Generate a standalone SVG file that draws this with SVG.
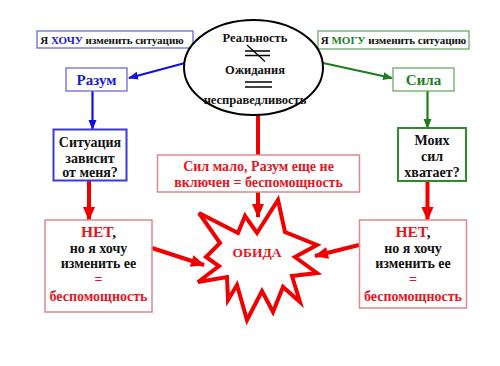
<svg xmlns="http://www.w3.org/2000/svg" width="500" height="366" viewBox="0 0 500 366" font-family="'Liberation Serif', 'DejaVu Serif', serif">
<style>
text{font-family:'Liberation Serif','DejaVu Serif',serif;font-weight:bold;text-anchor:middle}
.k{fill:#111}
.b{fill:#1a1ad6}
.g{fill:#1e7d1e}
.r{fill:#e8141e}
.bb{fill:#fff;stroke:#6a6ad8;stroke-width:1.3}
.bb2{fill:#fff;stroke:#3a3ad8;stroke-width:2}
.gb{fill:#fff;stroke:#6aaa6a;stroke-width:1.3}
.gb2{fill:#fff;stroke:#2e8a2e;stroke-width:2}
.rb{fill:#fff;stroke:#d88a8e;stroke-width:1.5}
.bl{stroke:#1010e0;stroke-width:2.2;fill:none}
.gl{stroke:#1e7d1e;stroke-width:2.2;fill:none}
.rl{stroke:#f00000;stroke-width:4;fill:none}
</style>
<defs>
<marker id="ab" markerUnits="userSpaceOnUse" markerWidth="10" markerHeight="10" refX="9" refY="5" orient="auto"><path d="M0,1 L10,5 L0,9 Z" fill="#1010e0"/></marker>
<marker id="ag" markerUnits="userSpaceOnUse" markerWidth="10" markerHeight="10" refX="9" refY="5" orient="auto"><path d="M0,1 L10,5 L0,9 Z" fill="#1e7d1e"/></marker>
<marker id="ar" markerUnits="userSpaceOnUse" markerWidth="14" markerHeight="14" refX="13" refY="7" orient="auto"><path d="M0,1 L14,7 L0,13 Z" fill="#f00000"/></marker>
</defs>
<rect width="500" height="366" fill="#fff"/>

<g id="connectors">
<line class="bl" x1="185" y1="63" x2="129" y2="78" marker-end="url(#ab)"/>
<line class="gl" x1="323" y1="63" x2="392" y2="78" marker-end="url(#ag)"/>
<line class="bl" x1="92.5" y1="91" x2="92.5" y2="129" marker-end="url(#ab)"/>
<line class="gl" x1="427.5" y1="91" x2="427.5" y2="128" marker-end="url(#ag)"/>
<line class="rl" x1="89" y1="181" x2="89" y2="220" marker-end="url(#ar)"/>
<line class="rl" x1="427.5" y1="181" x2="427.5" y2="220" marker-end="url(#ar)"/>
<line class="rl" x1="258" y1="115" x2="258" y2="155"/>
<line class="rl" x1="258" y1="192" x2="258" y2="217" marker-end="url(#ar)"/>
<line class="rl" x1="152" y1="248" x2="204" y2="265" marker-end="url(#ar)"/>
<line class="rl" x1="359" y1="245" x2="315" y2="256" marker-end="url(#ar)"/>
</g>

<g id="want">
<rect class="bb" x="37" y="31" width="156" height="17"/>
<text x="112" y="43.5" font-size="11"><tspan class="k">Я </tspan><tspan class="b">ХОЧУ</tspan><tspan class="k"> изменить ситуацию</tspan></text>
</g>

<g id="can">
<rect class="gb" x="318" y="31" width="151" height="18"/>
<text x="393.5" y="44" font-size="11"><tspan class="k">Я </tspan><tspan class="g">МОГУ</tspan><tspan class="k"> изменить ситуацию</tspan></text>
</g>

<g id="reality">
<ellipse cx="253.5" cy="67.5" rx="69.5" ry="47.5" fill="#fff" stroke="#000" stroke-width="2"/>
<text class="k" x="255" y="42" font-size="12.5">Реальность</text>
<line x1="245" y1="51" x2="270" y2="51" stroke="#000" stroke-width="1.5"/>
<line x1="245" y1="55.5" x2="270" y2="55.5" stroke="#000" stroke-width="1.5"/>
<line x1="247" y1="45" x2="265" y2="61.5" stroke="#000" stroke-width="1.3"/>
<text class="k" x="255" y="74" font-size="12.5">Ожидания</text>
<line x1="245" y1="82" x2="272" y2="82" stroke="#000" stroke-width="1.5"/>
<line x1="245" y1="87" x2="272" y2="87" stroke="#000" stroke-width="1.5"/>
<text class="k" x="255" y="104" font-size="12.5">несправедливость</text>
</g>

<g id="razum">
<rect class="bb" x="66" y="68" width="61" height="23"/>
<text class="b" x="96.5" y="84.5" font-size="15">Разум</text>
</g>

<g id="sila">
<rect class="gb" x="393" y="68" width="61" height="23"/>
<text class="g" x="423.5" y="84.5" font-size="15">Сила</text>
</g>

<g id="depends">
<rect class="bb2" x="53.5" y="129.5" width="73" height="51"/>
<text class="k" x="90" y="147" font-size="14">Ситуация</text>
<text class="k" x="90" y="162.5" font-size="14">зависит</text>
<text class="k" x="90" y="177" font-size="14">от меня?</text>
</g>

<g id="enough">
<rect class="gb2" x="398" y="128" width="68" height="53"/>
<text class="k" x="432" y="145" font-size="14">Моих</text>
<text class="k" x="432" y="161" font-size="14">сил</text>
<text class="k" x="432" y="176.5" font-size="14">хватает?</text>
</g>

<g id="little">
<rect class="rb" x="157.5" y="155" width="202" height="37"/>
<text class="r" x="258.5" y="170.5" font-size="14">Сил мало, Разум еще не</text>
<text class="r" x="258.5" y="187" font-size="14">включен = беспомощность</text>
</g>

<g id="no-left">
<rect class="rb" x="45" y="220" width="107" height="92"/>
<text x="98.5" y="236.5" font-size="15.5"><tspan class="r">НЕТ</tspan><tspan class="k">,</tspan></text>
<text class="k" x="98.5" y="253" font-size="14">но я хочу</text>
<text class="k" x="98.5" y="268" font-size="14">изменить ее</text>
<text class="r" x="98.5" y="284" font-size="14">=</text>
<text class="r" x="98.5" y="301" font-size="14">беспомощность</text>
</g>

<g id="no-right">
<rect class="rb" x="359.5" y="220" width="107" height="88"/>
<text x="413" y="236.5" font-size="15.5"><tspan class="r">НЕТ</tspan><tspan class="k">,</tspan></text>
<text class="k" x="413" y="253" font-size="14">но я хочу</text>
<text class="k" x="413" y="268" font-size="14">изменить ее</text>
<text class="r" x="413" y="284" font-size="14">=</text>
<text class="r" x="413" y="301" font-size="14">беспомощность</text>
</g>

<g id="offense">
<polygon points="199,213 238,233 245,216 257,233 278,200 285,232 317,245 295,257 317,273 292,276 300,302 283,287 273,312 262,291 247,320 237,285 228,300 227,277 198,282 219,266 206,257 220,243" fill="#fff" stroke="#f00000" stroke-width="4" stroke-linejoin="miter"/>
<text class="r" x="257" y="257" font-size="13.5">ОБИДА</text>
</g>
</svg>
